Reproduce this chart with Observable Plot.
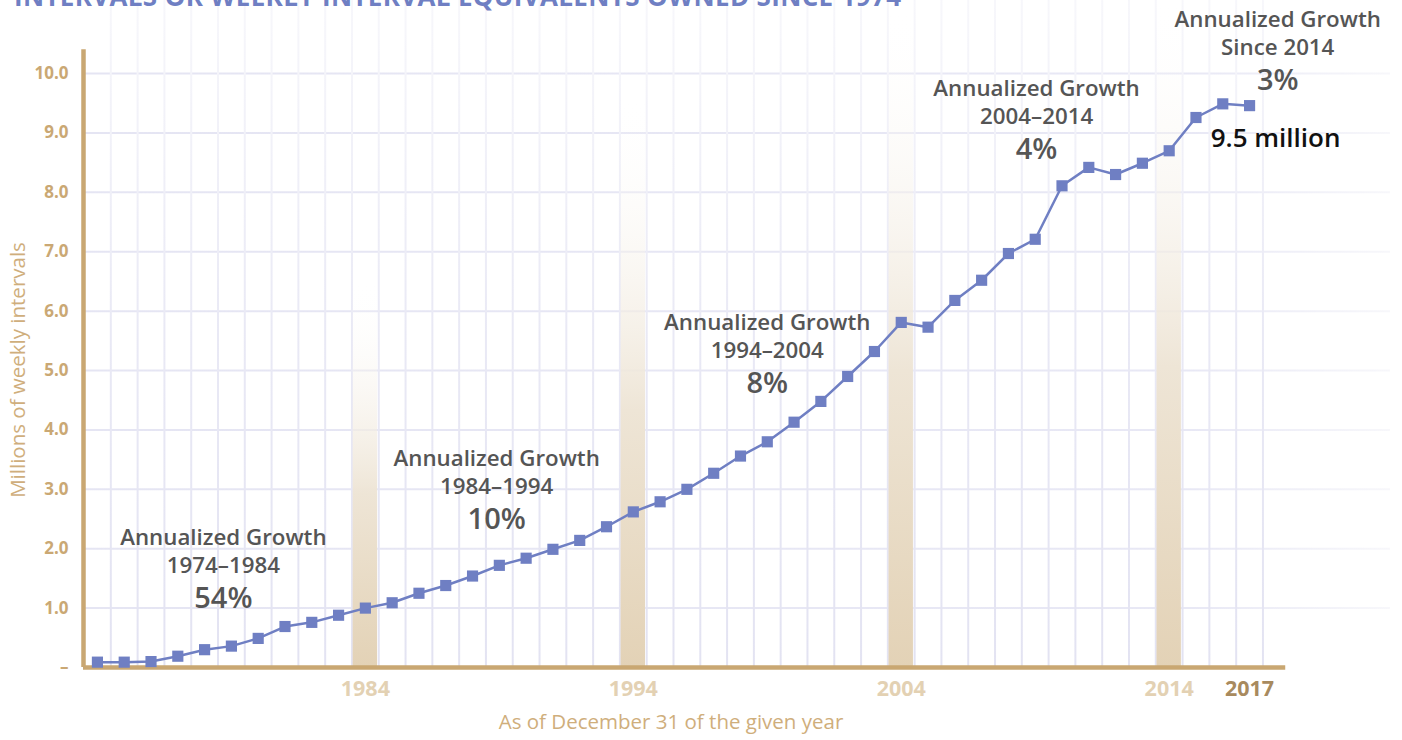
<!DOCTYPE html>
<html><head><meta charset="utf-8">
<script src="https://cdn.jsdelivr.net/npm/d3@7"></script>
<script src="https://cdn.jsdelivr.net/npm/@observablehq/plot@0.6"></script>
<style>
body{margin:0;background:#fff;overflow:hidden}
#wrap{position:relative;width:1402px;height:740px;overflow:hidden}
#title{position:absolute;left:14px;top:-17px;margin:0;font:700 26px "Open Sans",sans-serif;color:#6f7fc3;white-space:nowrap;line-height:1;letter-spacing:0.35px}
</style></head><body>
<div id="wrap"><div id="chart"></div><div id="title">INTERVALS OR WEEKLY INTERVAL EQUIVALENTS OWNED SINCE 1974</div></div>
<script>
// ---- data ----
const years = [1974,1975,1976,1977,1978,1979,1980,1981,1982,1983,1984,1985,1986,1987,1988,1989,1990,1991,1992,1993,1994,1995,1996,1997,1998,1999,2000,2001,2002,2003,2004,2005,2006,2007,2008,2009,2010,2011,2012,2013,2014,2015,2016,2017];
const intervals = [0.09,0.09,0.10,0.19,0.30,0.36,0.49,0.69,0.76,0.88,1.00,1.09,1.25,1.38,1.54,1.72,1.84,1.99,2.14,2.37,2.62,2.79,3.00,3.27,3.56,3.80,4.13,4.48,4.90,5.32,5.81,5.73,6.18,6.52,6.97,7.21,8.11,8.42,8.30,8.49,8.70,9.26,9.49,9.46];
const yTicks = [0,1,2,3,4,5,6,7,8,9,10];
const xTicks = [1984,1994,2004,2014];
const lastTick = [2017];
const bandYears = [1984,1994,2004,2014];
const bandTops = [6.5,9.6,11.1,11.23];
const growthHeader = "Annualized Growth";
const growthPeriods = ["1974–1984","1984–1994","1994–2004","2004–2014","Since 2014"];
const growthRates = ["54%","10%","8%","4%","3%"];
const labelYears = [1978.7,1988.9,1999,2009.05,2018.05];
const labelValues = [2.22,3.55,5.84,9.78,10.94];
const calloutText = "9.5 million";
const yTitle = "Millions of weekly intervals";
const xTitle = "As of December 31 of the given year";

// ---- tables ----
const series = years.map((year, i) => ({year, value: intervals[i]}));
const bands = bandYears.map((year, i) => ({year, top: bandTops[i]}));
const labels = growthPeriods.map((p, i) => ({heading: growthHeader + "\n" + p, rate: growthRates[i], x: labelYears[i], y: labelValues[i]}));
const gridYears = years.map(y => y + 0.5);
const xStart = 1973.48, xAxisEnd = 2018.35, xEnd = 2022.26, yTop = 11.23, yAxisTop = 10.4;

const tan = "#c9a772";
const blue = "#6f7fc3";
const gray = "#555555";
const font = "Open Sans";

const plot = Plot.plot({
  width: 1402, height: 740,
  marginLeft: 83, marginRight: 12, marginTop: 0, marginBottom: 73,
  x: {domain: [xStart, xEnd]},
  y: {domain: [0, yTop]},
  style: {fontFamily: font, background: "transparent", overflow: "visible"},
  marks: [
    Plot.ruleY(yTicks.filter(d => d > 0), {x1: xStart, x2: xEnd, stroke: "url(#hgrad)", strokeWidth: 2}),
    Plot.ruleX(gridYears, {y1: 0, y2: yTop, stroke: "url(#vgrad)", strokeWidth: 2}),
    Plot.rect(bands, {x1: d => d.year - 0.5, x2: d => d.year + 0.5, y1: 0, y2: "top", fill: "url(#bgrad)", insetLeft: 1.2, insetRight: 1.2}),
    Plot.ruleY([0], {x1: xStart, x2: xAxisEnd, stroke: tan, strokeWidth: 4.5}),
    Plot.ruleX([xStart], {y1: 0, y2: yAxisTop, stroke: tan, strokeWidth: 4.5}),
    Plot.axisY({ticks: yTicks, tickSize: 0, tickPadding: 15, tickFormat: d => d === 0 ? "–" : d.toFixed(1), fill: "#caa874", fontSize: 17, fontWeight: 700, label: null}),
    Plot.axisX({ticks: xTicks, tickSize: 0, tickPadding: 13, tickFormat: d => String(d), fill: "#e3d1b3", fontSize: 21.5, fontWeight: 700, label: null}),
    Plot.axisX({ticks: lastTick, tickSize: 0, tickPadding: 13, tickFormat: d => String(d), fill: "#a88a5e", fontSize: 21.5, fontWeight: 700, label: null}),
    Plot.text([yTitle], {frameAnchor: "left", textAnchor: "middle", rotate: -90, dx: -65, dy: 36, fill: "#cfae7c", fontSize: 20.5, fontWeight: 500}),
    Plot.text([xTitle], {frameAnchor: "bottom", textAnchor: "middle", dx: -66, dy: 61, fill: "#cfae7c", fontSize: 20.5, fontWeight: 500}),
    Plot.line(series, {x: "year", y: "value", stroke: blue, strokeWidth: 2.5}),
    Plot.dot(series, {x: "year", y: "value", symbol: "square", r: 6.3, fill: blue, stroke: "none"}),
    Plot.text(labels, {x: "x", y: "y", text: "heading", dy: 14, lineHeight: 1.26, fill: gray, fontSize: 22.3, fontWeight: 600, letterSpacing: "0.55px"}),
    Plot.text(labels, {x: "x", y: "y", text: "rate", dy: 63, fill: gray, fontSize: 29, fontWeight: 600}),
    Plot.text(series.slice(-1), {x: "year", y: "value", text: () => calloutText, dx: 26, dy: 33, fill: "#111", fontSize: 26, fontWeight: 600, letterSpacing: "-0.5px"})
  ]
});

// gradients
const ns = "http://www.w3.org/2000/svg";
const defs = document.createElementNS(ns, "defs");
defs.innerHTML = `
<linearGradient id="vgrad" gradientUnits="userSpaceOnUse" x1="0" y1="667" x2="0" y2="0">
  <stop offset="0" stop-color="#e3e3f2"/><stop offset="0.5" stop-color="#e9e9f5"/><stop offset="1" stop-color="#f7f7fb"/>
</linearGradient>
<linearGradient id="hgrad" gradientUnits="userSpaceOnUse" x1="83" y1="0" x2="1402" y2="0">
  <stop offset="0" stop-color="#e5e5f3"/><stop offset="0.84" stop-color="#e8e8f5"/><stop offset="1" stop-color="#f8f8fb"/>
</linearGradient>
<linearGradient id="bgrad" x1="0" y1="1" x2="0" y2="0">
  <stop offset="0" stop-color="#e3d2b6"/><stop offset="0.45" stop-color="#eee5d6"/><stop offset="1" stop-color="#ffffff" stop-opacity="0"/>
</linearGradient>`;
plot.insertBefore(defs, plot.firstChild);
document.getElementById("chart").appendChild(plot);
</script>
</body></html>
